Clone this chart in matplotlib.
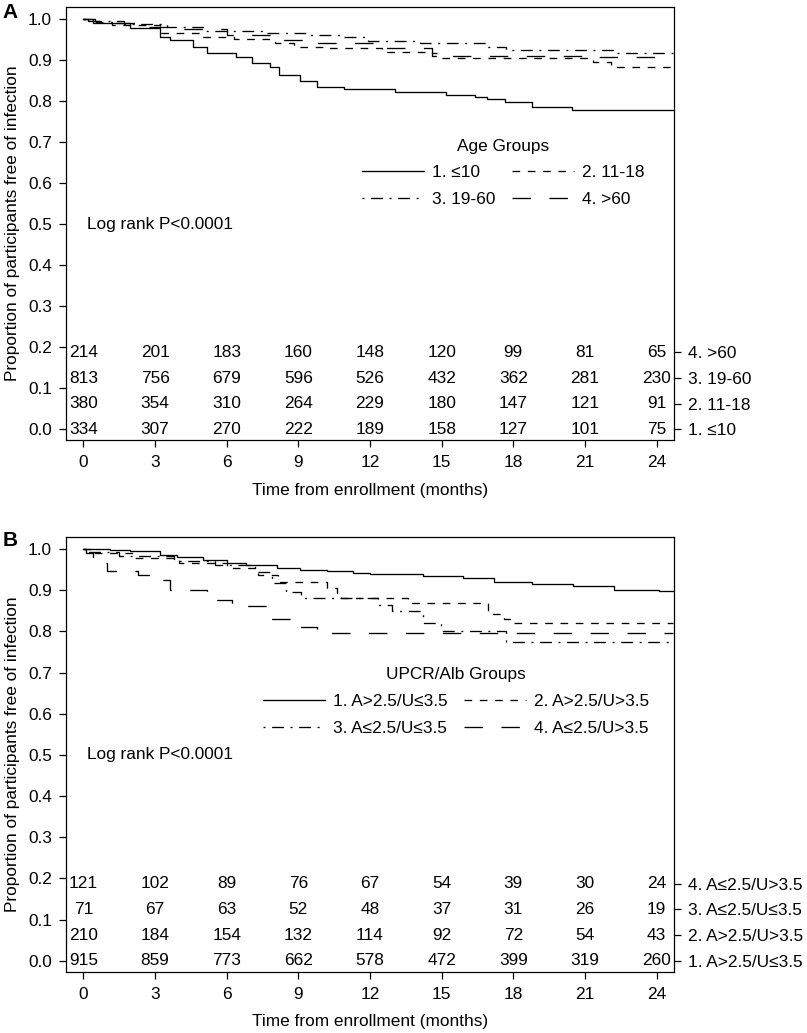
import numpy as np
import matplotlib
matplotlib.use('Agg')
from matplotlib import pyplot as plt

# === Configuration ===
plt.rcParams['font.family'] = ['Liberation Sans', 'DejaVu Sans']
fs = 12.4
months = [0, 3, 6, 9, 12, 15, 18, 21, 24]
t_end = 24.7

# === Panel A : groupes d'âge (courbes) ===
age_labels = ['1. \u226410', '2. 11-18', '3. 19-60', '4. >60']
age1_t = [0, 0.42, 1.95, 3.2, 3.63, 4.6, 5.16, 6.4, 7.05, 7.8, 8.2, 9.07, 9.77, 10.9, 13.05, 15.2, 16.4, 16.9, 17.65, 18.77, 20.45]
age1_s = [1.0, 0.991, 0.977, 0.957, 0.949, 0.933, 0.916, 0.908, 0.892, 0.884, 0.864, 0.848, 0.834, 0.830, 0.821, 0.815, 0.809, 0.805, 0.799, 0.785, 0.779]
age2_t = [0, 0.3, 1.2, 3.2, 4.9, 6.3, 8.0, 8.8, 10.2, 12.5, 14.6, 15.0, 21.35, 22.1]
age2_s = [1.0, 0.993, 0.985, 0.966, 0.957, 0.952, 0.941, 0.933, 0.929, 0.92, 0.91, 0.905, 0.895, 0.884]
age3_t = [0, 0.5, 1.7, 3.5, 5.0, 7.5, 9.3, 10.8, 11.9, 14.1, 16.9, 17.7, 22.2]
age3_s = [1.0, 0.995, 0.988, 0.98, 0.97, 0.965, 0.962, 0.955, 0.947, 0.941, 0.933, 0.925, 0.918]
age4_t = [0, 0.2, 1.0, 2.5, 3.6, 6.0, 8.0, 9.7, 12.3, 14.6, 15.1, 21.0]
age4_s = [1.0, 0.996, 0.99, 0.98, 0.975, 0.96, 0.95, 0.942, 0.93, 0.918, 0.91, 0.907]

age_risk = [
    [334, 307, 270, 222, 189, 158, 127, 101, 75],
    [380, 354, 310, 264, 229, 180, 147, 121, 91],
    [813, 756, 679, 596, 526, 432, 362, 281, 230],
    [214, 201, 183, 160, 148, 120, 99, 81, 65],
]

# === Panel B : groupes UPCR/Alb ===
upcr_labels = ['1. A>2.5/U\u22643.5', '2. A>2.5/U>3.5', '3. A\u22642.5/U\u22643.5', '4. A\u22642.5/U>3.5']
upcr1_t = [0, 1.1, 1.95, 3.2, 3.9, 5.0, 6.0, 6.8, 8.1, 9.07, 10.2, 11.3, 12.0, 14.2, 15.9, 17.2, 18.8, 20.5, 22.2, 24.1]
upcr1_s = [1.0, 0.998, 0.994, 0.985, 0.981, 0.973, 0.967, 0.961, 0.955, 0.95, 0.947, 0.942, 0.94, 0.934, 0.929, 0.921, 0.916, 0.91, 0.90, 0.898]
upcr2_t = [0, 0.3, 2.1, 4.0, 6.0, 7.3, 8.16, 10.2, 10.6, 10.8, 13.6, 16.95, 17.6, 17.95]
upcr2_s = [1.0, 0.99, 0.978, 0.965, 0.955, 0.937, 0.92, 0.905, 0.893, 0.88, 0.868, 0.843, 0.83, 0.82]
upcr3_t = [0, 0.1, 1.5, 3.8, 5.5, 7.2, 7.9, 8.5, 9.1, 12.35, 12.9, 14.2, 14.95, 17.7]
upcr3_s = [1.0, 0.992, 0.982, 0.972, 0.962, 0.945, 0.917, 0.896, 0.88, 0.864, 0.85, 0.82, 0.80, 0.775]
upcr4_t = [0, 0.1, 0.42, 0.98, 2.3, 3.2, 3.63, 5.16, 6.2, 7.7, 9.07, 9.77]
upcr4_s = [1.0, 0.99, 0.965, 0.947, 0.938, 0.925, 0.90, 0.876, 0.861, 0.831, 0.811, 0.796]

upcr_risk = [
    [915, 859, 773, 662, 578, 472, 399, 319, 260],
    [210, 184, 154, 132, 114, 92, 72, 54, 43],
    [71, 67, 63, 52, 48, 37, 31, 26, 19],
    [121, 102, 89, 76, 67, 54, 39, 30, 24],
]

risk_y = [0, 0.0625, 0.125, 0.1875]

# styles de ligne (1 plein, 2 tirets courts, 3 tiret-point, 4 tirets longs)
styles = ['-', (0, (5.8, 5.8)), (0, (1.5, 5.0, 9.0, 5.0)), (0, (14, 14))]
lw = 0.95


def km_panel(ax, curves, labels, risk, title, leg_pos):
    handles = []
    for (t, s), ls in zip(curves, styles):
        tt = list(t) + [t_end]
        ss = list(s) + [s[-1]]
        h, = ax.step(tt, ss, where='post', color='black', lw=lw, linestyle=ls)
        handles.append(h)

    ax.set_xlim(-0.73, 24.74)
    ax.set_ylim(-0.026, 1.03)
    ax.set_xticks(months)
    ax.set_yticks(np.arange(0, 1.01, 0.1))
    ax.set_yticklabels([f'{v:.1f}' for v in np.arange(0, 1.01, 0.1)])
    ax.tick_params(direction='out', length=5, width=0.9, labelsize=fs, pad=5)
    ax.tick_params(axis='x', pad=6)
    for sp in ax.spines.values():
        sp.set_linewidth(0.9)
    ax.set_xlabel('Time from enrollment (months)', fontsize=fs, labelpad=9)
    ax.set_ylabel('Proportion of participants free of infection', fontsize=fs, labelpad=6)

    # tableau des effectifs à risque
    for i, row in enumerate(risk):
        for m, v in zip(months, row):
            ax.text(m, risk_y[i], str(v), ha='center', va='center', fontsize=fs)

    ax2 = ax.twinx()
    ax2.set_ylim(ax.get_ylim())
    ax2.set_yticks(risk_y)
    ax2.set_yticklabels(labels)
    ax2.tick_params(direction='out', length=5, width=0.9, labelsize=fs, pad=4.5)
    for sp in ax2.spines.values():
        sp.set_visible(False)

    ax.text(0.15, 0.5, 'Log rank P<0.0001', ha='left', va='center', fontsize=fs)

    order = [0, 2, 1, 3]
    ax.legend([handles[k] for k in order], [labels[k] for k in order],
              ncol=2, title=title, frameon=False, fontsize=fs,
              title_fontsize=fs, loc='center',
              bbox_to_anchor=leg_pos, bbox_transform=ax.transData,
              handlelength=3.6, handletextpad=0.45, columnspacing=1.0,
              labelspacing=0.68, borderpad=0)


fig = plt.figure(figsize=(8.07, 10.33), dpi=100)
axA = fig.add_axes([0.0818, 0.574, 0.7538, 0.4195])
axB = fig.add_axes([0.0818, 0.0595, 0.7538, 0.421])

km_panel(axA, [(age1_t, age1_s), (age2_t, age2_s), (age3_t, age3_s), (age4_t, age4_s)],
         age_labels, age_risk, 'Age Groups', (17.57, 0.625))
km_panel(axB, [(upcr1_t, upcr1_s), (upcr2_t, upcr2_s), (upcr3_t, upcr3_s), (upcr4_t, upcr4_s)],
         upcr_labels, upcr_risk, 'UPCR/Alb Groups', (15.6, 0.63))

fig.text(10 / 807, 1 - 12 / 1033, 'A', fontsize=15, fontweight='bold', ha='center', va='center')
fig.text(10 / 807, 1 - 541 / 1033, 'B', fontsize=15, fontweight='bold', ha='center', va='center')

fig.savefig('out.png', dpi=100)
